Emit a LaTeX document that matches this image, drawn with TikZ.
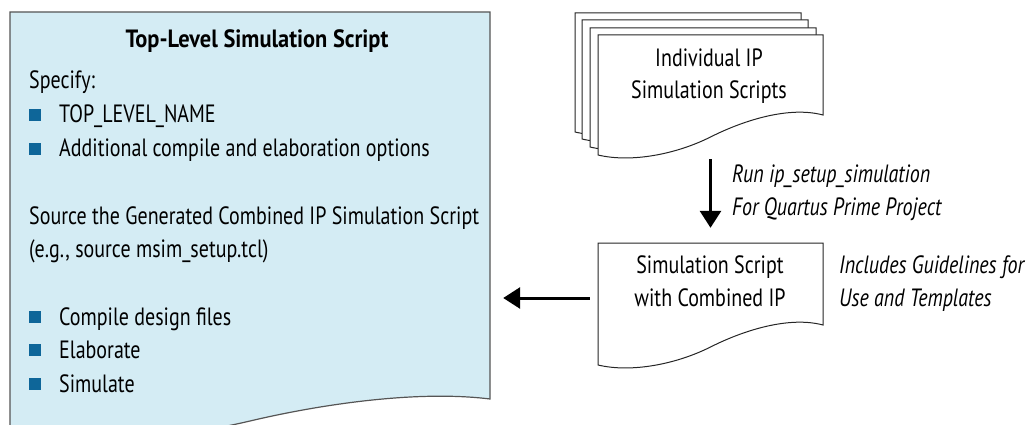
\documentclass[tikz,border=0pt]{standalone}
\usepackage{fontspec}
\setmainfont{PT Sans}[FakeStretch=0.80]
\usetikzlibrary{arrows.meta}
\definecolor{docfill}{HTML}{D4ECF4}
\definecolor{bulletblue}{HTML}{0E6699}
\definecolor{docline}{HTML}{555555}
% document shape: left, right, top, bottom-right y, style
\newcommand\drawdoc[5]{%
  \draw[#5] (#1,{#4+40}) -- (#1,#3) -- (#2,#3) -- (#2,#4)
    .. controls ({#2-0.15*(#2-#1)},{#4-9}) and ({#2-0.35*(#2-#1)},{#4+5}) .. ({#1+0.5*(#2-#1)},{#4+22})
    .. controls ({#1+0.35*(#2-#1)},{#4+39}) and ({#1+0.15*(#2-#1)},{#4+48}) .. (#1,{#4+40}) -- cycle;}
\begin{document}
\begin{tikzpicture}[x=1pt,y=-1pt,
  font=\fontsize{25}{33}\selectfont,
  txt/.style={inner sep=0pt, anchor=base west},
  ctxt/.style={inner sep=0pt, anchor=base},
  bul/.style={inner sep=0pt, minimum size=12pt, fill=bulletblue},
  holder/.style={inner sep=0pt},
  bluedoc/.style={draw=docline, fill=docfill, line width=1.2pt},
  whitedoc/.style={draw=black!85, fill=white, line width=1pt},
  arr/.style={line width=3pt, -{Triangle[length=17pt,width=21pt]}}]
\useasboundingbox (0,0) rectangle (1030,425);
\clip (0,0) rectangle (1030,425);

% ---------- left document ----------
\drawdoc{10}{490}{12}{399}{bluedoc}
\node[holder, minimum width=480pt, minimum height=387pt] (top) at (250,205.5) {};
\node[ctxt] (title) at (257,48) {\scalebox{1.12}[1]{\textbf{Top-Level Simulation Script}}};
\node[txt] (spec) at (29,89) {Specify:};
\node[bul] (b1) at (35,115) {};
\node[txt] (t1) at (59,123) {TOP\_LEVEL\_NAME};
\node[bul] (b2) at (35,149) {};
\node[txt] (t2) at (59,157) {Additional compile and elaboration options};
\node[txt] (src1) at (29,224) {Source the Generated Combined IP Simulation Script};
\node[txt] (src2) at (29,257) {(e.g., source msim\_setup.tcl)};
\node[bul] (b3) at (35,317) {};
\node[txt] (t3) at (59,325) {Compile design files};
\node[bul] (b4) at (35,350) {};
\node[txt] (t4) at (59,358) {Elaborate};
\node[bul] (b5) at (35,384) {};
\node[txt] (t5) at (59,392) {Simulate};

% ---------- stacked individual IP documents ----------
\drawdoc{575}{801}{13}{92}{whitedoc}
\drawdoc{582}{808}{20}{99}{whitedoc}
\drawdoc{590}{816}{28}{107}{whitedoc}
\drawdoc{598}{823}{35}{115}{whitedoc}
\node[holder, minimum width=225pt, minimum height=120pt] (front) at (710.5,95) {};
\node[ctxt] (ind1) at (709,67) {Individual IP};
\node[ctxt] (ind2) at (709,99) {Simulation Scripts};

% ---------- combined document ----------
\drawdoc{598}{823}{243}{325}{whitedoc}
\node[holder, minimum width=225pt, minimum height=120pt] (combined) at (710.5,303) {};
\node[ctxt] (cmb1) at (710,273) {Simulation Script};
\node[ctxt] (cmb2) at (710,306) {with Combined IP};

% ---------- labels ----------
\node[txt] (run1) at (732,182) {\itshape Run ip\_setup\_simulation};
\node[txt] (run2) at (732,215) {\itshape For Quartus Prime Project};
\node[txt] (inc1) at (839,273) {\itshape Includes Guidelines for};
\node[txt] (inc2) at (839,306) {\itshape Use and Templates};

% ---------- arrows ----------
\draw[arr] ([yshift=-4pt]front.south) -- ([yshift=15pt]combined.north);
\coordinate (ay) at (0,298);
\draw[arr] ([xshift=-8pt]combined.west |- ay) -- ([xshift=13pt]top.east |- ay);
\end{tikzpicture}
\end{document}
